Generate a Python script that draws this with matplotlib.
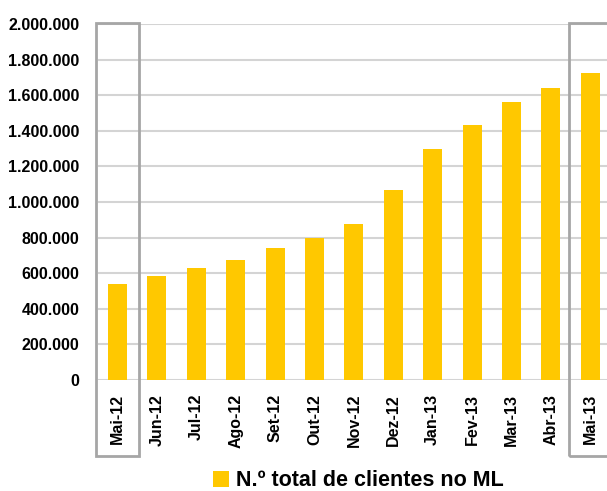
import matplotlib
matplotlib.use("Agg")
from matplotlib import pyplot as plt
from matplotlib.patches import Rectangle
from matplotlib.ticker import FuncFormatter, MultipleLocator
import matplotlib.transforms as mtransforms

months = ['Mai-12', 'Jun-12', 'Jul-12', 'Ago-12', 'Set-12', 'Out-12', 'Nov-12',
          'Dez-12', 'Jan-13', 'Fev-13', 'Mar-13', 'Abr-13', 'Mai-13']
clients = [540000, 585000, 630000, 675000, 740000, 800000, 875000,
           1065000, 1298000, 1435000, 1560000, 1640000, 1725000]
series_label = 'N.º total de clientes no ML'
highlighted = [0, 12]

plt.rcParams['font.family'] = ['Liberation Sans', 'DejaVu Sans']
plt.rcParams['font.weight'] = 'bold'

fig = plt.figure(figsize=(6.07, 4.91), dpi=100)
ax = fig.add_axes([0.161, 0.226, 0.844, 0.725])

x = list(range(len(months)))
ax.bar(x, clients, width=0.48, color='#FFC800', label=series_label, zorder=3)

ax.set_xlim(-0.5, len(months) - 0.5)
ax.set_ylim(0, 2000000)
ax.yaxis.set_major_locator(MultipleLocator(200000))
ax.yaxis.set_major_formatter(FuncFormatter(lambda v, p: f"{int(v):,}".replace(',', '.')))
ax.grid(axis='y', color='#d4d4d4', linewidth=1.5, zorder=0)
ax.set_axisbelow(True)
for s in ax.spines.values():
    s.set_visible(False)
ax.tick_params(axis='y', length=0, labelsize=11.5, pad=13)
ax.tick_params(axis='x', length=0, labelsize=11.5, pad=10)
ax.set_xticks(x)
ax.set_xticklabels(months, rotation=90, fontweight='bold')
for t in ax.get_yticklabels():
    t.set_fontweight('bold')

# boxes round the first and last month
trans = mtransforms.blended_transform_factory(ax.transData, ax.transAxes)
for i in highlighted:
    r = Rectangle((i - 0.55, -0.213), 1.1, 1.216, transform=trans, fill=False,
                  edgecolor='#a6a6a6', linewidth=2, clip_on=False, zorder=4)
    ax.add_patch(r)

fig.legend(loc='center', bbox_to_anchor=(0.59, 0.021), frameon=False,
           handlelength=0.75, handleheight=0.75, handletextpad=0.3,
           prop={'size': 15.5, 'weight': 'bold'})

plt.savefig('out.png', dpi=100)
